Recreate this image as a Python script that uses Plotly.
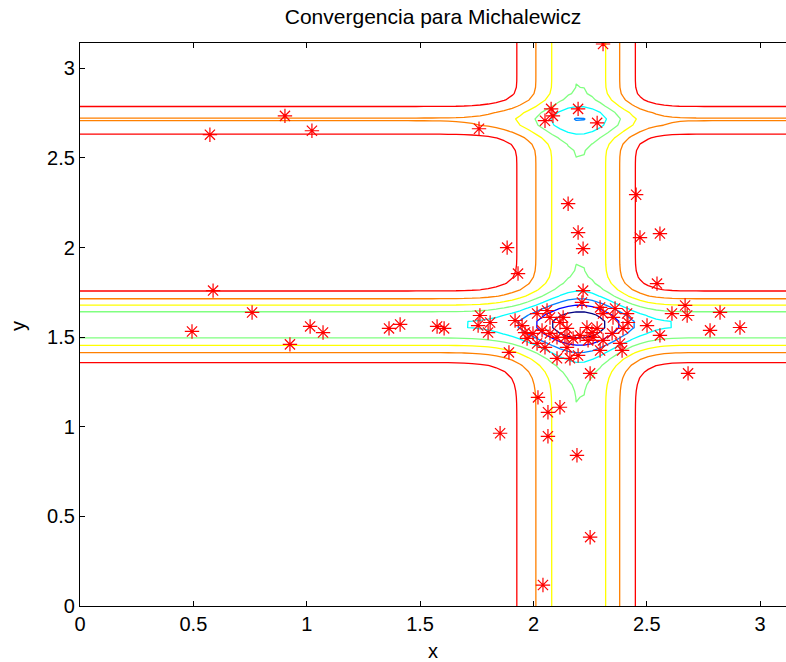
import numpy as np
import plotly.graph_objects as go

# Michalewicz function surface (m = 10) on [0, pi] x [0, pi]
m_param = 10
grid_n = 90
gx = np.linspace(0, np.pi, grid_n)
gy = np.linspace(0, np.pi, grid_n)
GX, GY = np.meshgrid(gx, gy)
Z = -(np.sin(GX) * np.sin(GX**2 / np.pi) ** (2 * m_param)
      + np.sin(GY) * np.sin(2 * GY**2 / np.pi) ** (2 * m_param))

# contour levels and their colours (jet-like)
level_start, level_end, level_step = -1.6, -0.2, 0.2
level_colors = ["#000080", "#0000ff", "#0080ff", "#00ffff",
                "#80ff80", "#ffff00", "#ff8000", "#ff0000"]

# population points
pts_x = [0.573, 0.904, 1.023, 1.760, 2.078, 2.197, 2.051, 2.086, 2.281, 2.307,
         2.153, 2.197, 2.219, 1.884, 2.453, 2.470, 2.558, 2.545, 1.932, 0.587,
         0.759, 0.494, 0.926, 1.015, 1.072, 1.363, 1.412, 1.575, 1.606, 1.764,
         1.809, 1.756, 1.800, 1.892, 2.219, 2.214, 1.919, 1.950, 1.963, 1.972,
         2.016, 2.060, 2.073, 2.038, 2.073, 2.051, 2.117, 2.131, 2.148, 2.104,
         2.161, 2.197, 2.236, 2.258, 2.281, 2.263, 2.206, 2.175, 2.139, 2.104,
         2.294, 2.307, 2.360, 2.351, 2.413, 2.417, 2.395, 2.347, 2.307, 2.294,
         2.382, 2.391, 2.250, 2.020, 2.117, 2.064, 1.998, 2.669, 2.678, 2.611,
         2.501, 2.558, 2.682, 2.064, 1.853, 2.192, 2.250, 2.042, 2.779, 2.823,
         2.911, 2.148, 2.241, 2.016]
pts_y = [2.630, 2.735, 2.652, 2.663, 2.774, 2.774, 2.708, 2.735, 2.696, 3.136,
         2.245, 2.084, 1.994, 2.000, 2.295, 2.056, 2.078, 1.799, 1.855, 1.760,
         1.638, 1.532, 1.460, 1.560, 1.526, 1.549, 1.571, 1.560, 1.549, 1.621,
         1.582, 1.565, 1.526, 1.415, 1.760, 1.694, 1.593, 1.565, 1.526, 1.493,
         1.632, 1.649, 1.610, 1.538, 1.521, 1.443, 1.582, 1.610, 1.549, 1.382,
         1.382, 1.398, 1.554, 1.526, 1.549, 1.499, 1.510, 1.493, 1.499, 1.499,
         1.666, 1.632, 1.660, 1.610, 1.632, 1.582, 1.549, 1.521, 1.482, 1.426,
         1.465, 1.426, 1.298, 1.164, 1.109, 1.081, 1.521, 1.677, 1.621, 1.632,
         1.565, 1.510, 1.298, 0.947, 0.964, 0.841, 0.384, 0.117, 1.538, 1.638,
         1.554, 1.443, 1.482, 1.465]

x_ticks = [0, 0.5, 1, 1.5, 2, 2.5, 3]
y_ticks = [0, 0.5, 1, 1.5, 2, 2.5, 3]
x_tick_text = ["0", "0.5", "1", "1.5", "2", "2.5", "3"]
y_tick_text = ["0", "0.5", "1", "1.5", "2", "2.5", "3"]

n_lev = len(level_colors)
colorscale = [[i / (n_lev - 1), c] for i, c in enumerate(level_colors)]

fig = go.Figure()
fig.add_trace(go.Contour(
    x=gx, y=gy, z=Z,
    zmin=level_start, zmax=level_end,
    colorscale=colorscale,
    showscale=False,
    contours=dict(start=level_start, end=level_end, size=level_step,
                  coloring="lines"),
    line=dict(width=1.3, smoothing=0),
    hoverinfo="skip",
))
fig.add_trace(go.Scatter(
    x=pts_x, y=pts_y, mode="markers",
    marker=dict(symbol="asterisk-open", size=12,
                line=dict(color="#ff0000", width=1.2), color="#ff0000"),
    showlegend=False,
))

font_family = "Liberation Sans, Arial, Helvetica, sans-serif"
fig.update_layout(
    width=786, height=662,
    margin=dict(l=80, r=0, t=43, b=56),
    paper_bgcolor="white", plot_bgcolor="white",
    font=dict(family=font_family, size=20, color="black"),
    title=dict(text="Convergencia para Michalewicz", xref="paper", x=0.5,
               xanchor="center", y=1 - 17 / 662, yanchor="middle",
               font=dict(size=21, family=font_family, color="black")),
    showlegend=False,
    xaxis=dict(range=[0, 3.114], tickvals=x_ticks, ticktext=x_tick_text,
               ticks="inside", ticklen=5, tickcolor="black",
               showline=True, linecolor="black", linewidth=1.3,
               mirror="ticks", showgrid=False, zeroline=False,
               title=dict(text="x", standoff=9, font=dict(size=20)),
               tickfont=dict(size=20)),
    yaxis=dict(range=[0, np.pi], tickvals=y_ticks, ticktext=y_tick_text,
               ticks="inside", ticklen=5, tickcolor="black",
               showline=True, linecolor="black", linewidth=1.3,
               mirror=False, showgrid=False, zeroline=False,
               tickfont=dict(size=20)),
    annotations=[dict(text="y", xref="paper", yref="paper",
                      x=(18 - 80) / 706, y=(606 - 326) / 563,
                      xanchor="center", yanchor="middle", textangle=-90,
                      showarrow=False, font=dict(size=20, family=font_family))],
)

fig.write_html("out.html")
